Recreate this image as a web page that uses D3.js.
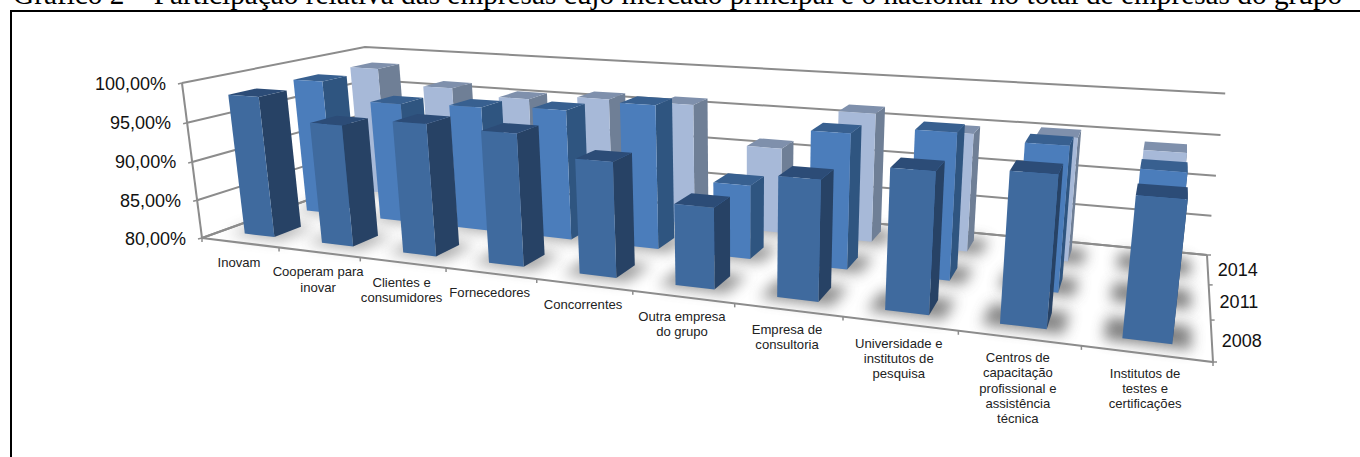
<!DOCTYPE html>
<html><head><meta charset="utf-8">
<script src="https://cdnjs.cloudflare.com/ajax/libs/d3/7.8.5/d3.min.js"></script>
<style>html,body{margin:0;padding:0;background:#fff;overflow:hidden}svg{display:block}</style>
</head><body><svg id="c" width="1360" height="457"></svg>
<script>
const categories = [["Inovam"],["Cooperam para","inovar"],["Clientes e","consumidores"],["Fornecedores"],["Concorrentes"],["Outra empresa","do grupo"],["Empresa de","consultoria"],["Universidade e","institutos de","pesquisa"],["Centros de","capacitação","profissional e","assistência","técnica"],["Institutos de","testes e","certificações"]];
const seriesNames = ["2008","2011","2014"];
const values2008 = [98.2,95.4,96.4,96.1,93.7,89.5,93.7,95.6,96.25,94.8];
const values2011 = [98.3,96.0,96.3,96.7,98.1,89.15,96.35,97.3,96.7,94.75];
const values2014 = [98.3,96.2,95.4,96.1,96.1,91.2,96.5,94.8,95.2,94.3];
const valueTicks = [80,85,90,95,100];
const titleText = "Gráfico 2 – Participação relativa das empresas cujo mercado principal é o nacional no total de empresas do grupo";

const seriesValues = [values2008,values2011,values2014];
const faces = [
 {front:"#3f6a9e",side:"#274265",top:"#2c4c77"},
 {front:"#4b7dbb",side:"#2f5580",top:"#386090"},
 {front:"#a7b9d8",side:"#6f7f96",top:"#7f90ac"}];

// projective camera: floor quad + vertical vanishing point
const F=[[202,238],[1213,362],[1207,255],[376,175.6]], VP=[740,4400], topY=83;
const [[x0,y0],[x1,y1],[x2,y2],[x3,y3]]=F;
const dx1=x1-x2,dx2=x3-x2,sx=x0-x1+x2-x3,dy1=y1-y2,dy2=y3-y2,sy=y0-y1+y2-y3,det=dx1*dy2-dx2*dy1;
const g=(sx*dy2-dx2*sy)/det,h=(dx1*sy-sx*dy1)/det;
const a=x1-x0+g*x1,b=x3-x0+h*x3,d=y1-y0+g*y1,e=y3-y0+h*y3;
const s=(topY-y0)/(VP[1]-topY);
function proj(u,t,v){const w=g*u+h*v+1+s*t;return [(a*u+b*v+x0+s*VP[0]*t)/w,(d*u+e*v+y0+s*VP[1]*t)/w];}

const xBand=d3.scaleBand().domain(d3.range(categories.length)).range([0,1]).paddingInner(0).paddingOuter(0);
const zBand=d3.scaleBand().domain(d3.range(seriesNames.length)).range([0,1]);
const yScale=d3.scaleLinear().domain([80,100]).range([0,1]);
const barFracX=0.39,barFracZ=0.42;

const svg=d3.select("#c");
const defs=svg.append("defs");
defs.append("filter").attr("id","blur").attr("x","-60%").attr("y","-100%").attr("width","220%").attr("height","300%")
  .append("feGaussianBlur").attr("stdDeviation",7);
const line=d3.line();
const grid="#8c8c8c";

svg.append("text").text(titleText).attr("x",13).attr("y",4).attr("font-family","Liberation Serif").attr("font-size",29.3).attr("fill","#000");
svg.append("path").attr("d","M11,458V11H1360").attr("fill","none").attr("stroke","#000").attr("stroke-width",2);

// walls
const gridG=svg.append("g").attr("fill","none").attr("stroke",grid).attr("stroke-width",2);
valueTicks.forEach(t=>{const y=yScale(t);
  gridG.append("path").attr("d",line([proj(0,y,0),proj(0,y,1),proj(1,y,1)]));
  const p=proj(0,y,0);
  gridG.append("path").attr("d",line([[p[0]-4,p[1]+1],p])).attr("stroke-width",1.5);
});
gridG.append("path").attr("d",line([proj(0,1,0),proj(0,0,0)]));

// bars geometry
const bars=[];
seriesValues.forEach((vals,si)=>vals.forEach((val,ci)=>{
  const uc=xBand(ci)+xBand.bandwidth()/2, vc=zBand(si)+zBand.bandwidth()/2;
  const du=xBand.bandwidth()*barFracX/2, dv=zBand.bandwidth()*barFracZ/2;
  bars.push({si,ci,val,u0:uc-du,u1:uc+du,v0:vc-dv,v1:vc+dv,uc,vc,du,dv});
}));

// floor shadows
const shadowOpacity=d3.scaleLinear().domain([0,1]).range([.5,.85]);
svg.append("g").selectAll("path").data(bars).join("path")
 .attr("filter","url(#blur)")
 .attr("d",r=>{const U=r.du*1.75,V=r.dv*1.35;return line([proj(r.uc-U,0,r.vc-V),proj(r.uc+U,0,r.vc-V),proj(r.uc+U,0,r.vc+V),proj(r.uc-U,0,r.vc+V)])+"Z";})
 .attr("fill","#666").attr("opacity",r=>shadowOpacity(r.uc));

// floor edges drawn over the shadows
const edgeG=svg.append("g").attr("fill","none").attr("stroke",grid).attr("stroke-width",2);
edgeG.append("path").attr("d",line([proj(0,0,1),proj(0,0,0),proj(1,0,0),proj(1,0,1)]));
edgeG.append("path").attr("d",line([proj(0,0,1),proj(1,0,1)]));
xBand.domain().concat([categories.length]).forEach(i=>{
  const p=proj(i/categories.length,0,0);
  edgeG.append("path").attr("d",line([p,[p[0],p[1]+4]])).attr("stroke-width",1.5);
});
[0,1,2,3].forEach(i=>{const p=proj(1,0,i/3);
  edgeG.append("path").attr("d",line([p,[p[0]+4,p[1]]])).attr("stroke-width",1.5);
});

// bars back to front
const order=bars.slice().sort((p,q)=>q.si-p.si||p.ci-q.ci);
const bg=svg.append("g");
order.forEach(r=>{
  const t=yScale(r.val), c=faces[r.si];
  const G=bg.append("g");
  G.append("path").attr("fill",c.side).attr("d",line([proj(r.u1,0,r.v0),proj(r.u1,0,r.v1),proj(r.u1,t,r.v1),proj(r.u1,t,r.v0)])+"Z");
  G.append("path").attr("fill",c.top).attr("d",line([proj(r.u0,t,r.v0),proj(r.u1,t,r.v0),proj(r.u1,t,r.v1),proj(r.u0,t,r.v1)])+"Z");
  G.append("path").attr("fill",c.front).attr("d",line([proj(r.u0,0,r.v0),proj(r.u1,0,r.v0),proj(r.u1,t,r.v0),proj(r.u0,t,r.v0)])+"Z");
});

// labels
const sans="Liberation Sans";
valueTicks.forEach(t=>{const p=proj(0,yScale(t),0);
  svg.append("text").text(d3.format(".2f")(t).replace(".",",")+"%").attr("x",p[0]-16).attr("y",p[1]+6.5)
   .attr("text-anchor","end").attr("font-family",sans).attr("font-size",18).attr("fill","#111");
});
categories.forEach((lines,i)=>{
  const p=proj(xBand(i)+xBand.bandwidth()/2,0,0);
  lines.forEach((l,k)=>svg.append("text").text(l).attr("x",p[0]-1).attr("y",p[1]+24+k*15.2)
   .attr("text-anchor","middle").attr("font-family",sans).attr("font-size",13.1).attr("fill","#222"));
});
seriesNames.forEach((n,i)=>{
  const p=proj(1,0,zBand(i)+zBand.bandwidth()/2);
  svg.append("text").text(n).attr("x",p[0]+10).attr("y",p[1]+6.5).attr("font-family",sans).attr("font-size",18).attr("fill","#111");
});
</script></body></html>
